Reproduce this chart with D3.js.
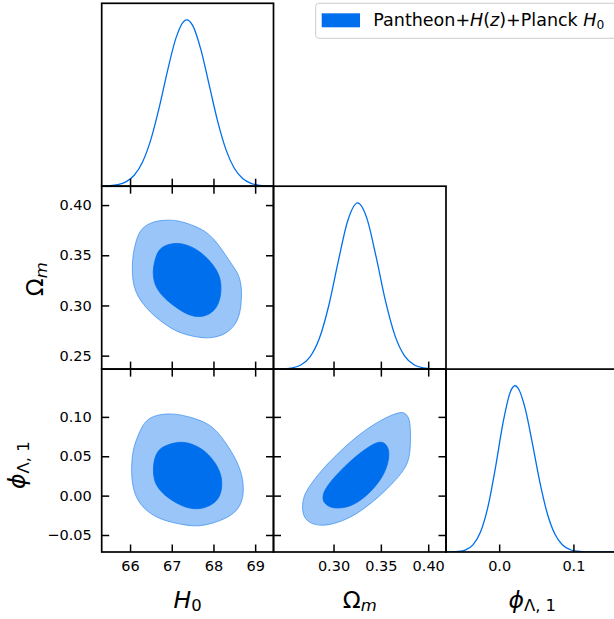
<!DOCTYPE html>
<html><head><meta charset="utf-8">
<script src="https://cdn.jsdelivr.net/npm/d3@7"></script>
<style>body{margin:0;background:#fff}svg{display:block}text{font-family:"DejaVu Sans",sans-serif}</style>
</head><body><svg id="c" width="614" height="619"></svg>
<script>
// ---------------- data ----------------
const paramNames = ["H0", "Om", "phi"];
const h0Domain = [65.32, 69.44];
const omDomain = [0.2366, 0.4188];
const phiDomain = [-0.0716, 0.1607];

const h0XTicks = [66, 67, 68, 69];
const omXTicks = [0.30, 0.35, 0.40];
const omYTicks = [0.25, 0.30, 0.35, 0.40];
const phiXTicks = [0.0, 0.1];
const phiYTicks = [-0.05, 0.00, 0.05, 0.10];

// 1D marginal densities (normalised to peak = 1)
const h0Grid = [65.3,65.5,65.7,65.9,66.1,66.3,66.5,66.7,66.9,67.1,67.3,67.36,67.5,67.7,67.9,68.1,68.3,68.5,68.7,68.9,69.1,69.3,69.5];
const h0Dens = [0.0007,0.0027,0.0089,0.0259,0.0657,0.1456,0.2814,0.4738,0.6956,0.8906,0.9938,1.0,0.967,0.8203,0.6065,0.391,0.2198,0.1077,0.046,0.0171,0.0056,0.0016,0.0004];
const omGrid = [0.225,0.235,0.245,0.255,0.265,0.275,0.285,0.295,0.305,0.315,0.3255,0.335,0.345,0.355,0.365,0.375,0.385,0.395,0.405,0.415,0.425];
const omDens = [0.0,0.0002,0.0012,0.0059,0.0228,0.0718,0.1838,0.3825,0.6479,0.8924,1.0,0.911,0.675,0.407,0.1997,0.0796,0.0258,0.0068,0.0015,0.0003,0.0];
const phiGrid = [-0.085,-0.075,-0.065,-0.055,-0.045,-0.035,-0.025,-0.015,-0.005,0.005,0.015,0.0212,0.025,0.035,0.045,0.055,0.065,0.075,0.085,0.095,0.105,0.115,0.125,0.135,0.145,0.165,0.175];
const phiDens = [0.0,0.0001,0.0007,0.0032,0.0132,0.0442,0.1215,0.2741,0.5077,0.7717,0.9627,1.0,0.989,0.8638,0.647,0.4155,0.2287,0.108,0.0437,0.0152,0.0045,0.0012,0.0003,0.0,0.0,0.0,0.0];

// 2D credible contours (68% inner, 95% outer)
const h0OmOuter = [[66.24,0.3755],[66.48,0.3828],[66.80,0.3852],[67.12,0.3850],[67.44,0.3810],[67.76,0.3755],[68.00,0.3670],[68.22,0.3550],[68.42,0.3420],[68.58,0.3330],[68.66,0.3230],[68.68,0.3115],[68.66,0.2985],[68.61,0.2880],[68.49,0.2790],[68.32,0.2725],[68.08,0.2683],[67.80,0.2673],[67.52,0.2690],[67.20,0.2725],[66.96,0.2778],[66.72,0.2848],[66.48,0.2933],[66.27,0.3035],[66.13,0.3135],[66.06,0.3250],[66.05,0.3383],[66.07,0.3517],[66.14,0.3640]];
const h0OmInner = [[66.61,0.3475],[66.71,0.3580],[67.04,0.3625],[67.32,0.3612],[67.61,0.3558],[67.86,0.3470],[68.06,0.3367],[68.17,0.3267],[68.19,0.3150],[68.14,0.3030],[68.01,0.2940],[67.80,0.2893],[67.60,0.2885],[67.36,0.2912],[67.12,0.2975],[66.87,0.3053],[66.66,0.3150],[66.56,0.3250],[66.55,0.3370]];
const h0PhiOuter = [[66.48,0.1000],[66.80,0.1040],[67.12,0.1040],[67.52,0.0988],[67.86,0.0920],[68.10,0.0812],[68.31,0.0662],[68.51,0.0493],[68.67,0.0303],[68.73,0.0113],[68.70,-0.0060],[68.57,-0.0192],[68.32,-0.0286],[68.00,-0.0350],[67.64,-0.0394],[67.28,-0.0372],[66.88,-0.0328],[66.55,-0.0255],[66.30,-0.0148],[66.13,-0.0014],[66.05,0.0155],[66.03,0.0324],[66.05,0.0493],[66.09,0.0620],[66.18,0.0750],[66.30,0.0900]];
const h0PhiInner = [[66.80,0.0630],[67.20,0.0695],[67.53,0.0652],[67.82,0.0562],[68.06,0.0410],[68.19,0.0261],[68.21,0.0113],[68.15,-0.0020],[67.98,-0.0117],[67.68,-0.0175],[67.40,-0.0162],[67.12,-0.0100],[66.82,0.0003],[66.61,0.0134],[66.55,0.0282],[66.57,0.0451],[66.66,0.0565]];
const omPhiOuter = [[0.3740,0.1062],[0.3796,0.1005],[0.3814,0.0873],[0.3814,0.0620],[0.3796,0.0448],[0.3742,0.0318],[0.3636,0.0170],[0.3512,0.0022],[0.3388,-0.0106],[0.3246,-0.0233],[0.3103,-0.0320],[0.2928,-0.0385],[0.2784,-0.0372],[0.2694,-0.0296],[0.2668,-0.0185],[0.2676,-0.0032],[0.2730,0.0096],[0.2820,0.0244],[0.2943,0.0413],[0.3086,0.0583],[0.3246,0.0754],[0.3421,0.0904],[0.3582,0.1010],[0.3688,0.1054]];
const omPhiInner = [[0.3493,0.0702],[0.3566,0.0648],[0.3593,0.0535],[0.3567,0.0362],[0.3495,0.0192],[0.3388,0.0042],[0.3263,-0.0085],[0.3121,-0.0160],[0.2978,-0.0160],[0.2894,-0.0097],[0.2880,0.0007],[0.2940,0.0138],[0.3050,0.0287],[0.3193,0.0458],[0.3352,0.0608]];

// ---------------- layout / style ----------------
const colX = [101.7, 273.5, 446.0, 618.5];
const rowY = [3.3, 186.2, 369.1, 552.0];
const C_DARK = "#006FED", C_LIGHT = "#99C5F8";
const TICK = 7.5, FS_TICK = 14.5, FS_LAB = 23.5;

const svg = d3.select("#c");
const domains = [h0Domain, omDomain, phiDomain];
const xTicks = [h0XTicks, omXTicks, phiXTicks];
const yTicks = [null, omYTicks, phiYTicks];
const xFmt = [d3.format("d"), d3.format(".2f"), d3.format(".1f")];
const yFmt = [null, d3.format(".2f"), d3.format(".2f")];
const xS = domains.map((d, p) => d3.scaleLinear().domain(d).range([colX[p], colX[p + 1]]));
const yS = domains.map((d, p) => d3.scaleLinear().domain(d).range([rowY[p + 1], rowY[p]]));
const grids = [[h0Grid, h0Dens], [omGrid, omDens], [phiGrid, phiDens]];
const contours = {"0-1": [h0OmOuter, h0OmInner], "0-2": [h0PhiOuter, h0PhiInner], "1-2": [omPhiOuter, omPhiInner]};

const defs = svg.append("defs");
const gPlot = svg.append("g"), gAxes = svg.append("g"), gFrame = svg.append("g");

function styleAxis(g, labels) {
  g.select(".domain").remove();
  g.selectAll(".tick line").attr("stroke", "#000").attr("stroke-width", 1.5);
  g.selectAll(".tick text").attr("font-size", FS_TICK).attr("font-family", "DejaVu Sans").attr("fill", "#000");
  if (!labels) g.selectAll(".tick text").remove();
}

for (let i = 0; i < 3; i++) for (let j = 0; j <= i; j++) {
  const x0 = colX[j], x1 = colX[j + 1], y0 = rowY[i], y1 = rowY[i + 1];
  const cid = `clip${i}${j}`;
  defs.append("clipPath").attr("id", cid).append("rect").attr("x", x0).attr("y", y0).attr("width", x1 - x0).attr("height", y1 - y0);
  const g = gPlot.append("g").attr("clip-path", `url(#${cid})`);
  const xs = xS[j];
  if (i === j) {
    const ys = d3.scaleLinear().domain([0, 1.1]).range([y1, y0]);
    const [gx, gy] = grids[j];
    const line = d3.line().x((d, k) => xs(gx[k])).y(d => ys(d)).curve(d3.curveMonotoneX);
    g.append("path").attr("d", line(gy)).attr("fill", "none").attr("stroke", C_DARK).attr("stroke-width", 1.3);
  } else {
    const ys = yS[i];
    const [outer, inner] = contours[`${j}-${i}`];
    const line = d3.line().x(d => xs(d[0])).y(d => ys(d[1])).curve(d3.curveBasisClosed);
    g.append("path").attr("d", line(outer)).attr("fill", C_LIGHT).attr("stroke", C_DARK).attr("stroke-opacity", 0.5).attr("stroke-width", 1);
    g.append("path").attr("d", line(inner)).attr("fill", C_DARK).attr("stroke", C_DARK).attr("stroke-width", 0.8);
  }
  // ticks (inward)
  const bottom = gAxes.append("g").attr("transform", `translate(0,${y1})`)
    .call(d3.axisBottom(xs).tickValues(xTicks[j]).tickFormat(xFmt[j]).tickSize(-TICK).tickPadding(8.5));
  styleAxis(bottom, i === 2);
  if (i !== j) {
    const ys = yS[i];
    const top = gAxes.append("g").attr("transform", `translate(0,${y0})`)
      .call(d3.axisTop(xs).tickValues(xTicks[j]).tickSize(-TICK));
    styleAxis(top, false);
    const left = gAxes.append("g").attr("transform", `translate(${x0},0)`)
      .call(d3.axisLeft(ys).tickValues(yTicks[i]).tickFormat(yFmt[i]).tickSize(-TICK).tickPadding(10));
    styleAxis(left, j === 0);
    const right = gAxes.append("g").attr("transform", `translate(${x1},0)`)
      .call(d3.axisRight(ys).tickValues(yTicks[i]).tickSize(-TICK));
    styleAxis(right, false);
  }
  gFrame.append("rect").attr("x", x0).attr("y", y0).attr("width", x1 - x0).attr("height", y1 - y0)
    .attr("fill", "none").attr("stroke", "#000").attr("stroke-width", 1.7);
}

// ---------------- axis labels (math text) ----------------
function mathText(sel, parts, fs) {
  parts.forEach(p => {
    const t = sel.append("tspan").text(p.t);
    if (p.it) t.attr("font-style", "italic");
    if (p.sub) t.attr("font-size", fs * 0.7).attr("dy", fs * 0.16);
  });
}
const labParts = [
  [{t: "H", it: true}, {t: "0", sub: true}],
  [{t: "Ω"}, {t: "m", it: true, sub: true}],
  [{t: "ϕ", it: true}, {t: "Λ, 1", sub: true}]
];
for (let p = 0; p < 3; p++) {
  const t = svg.append("text").attr("x", (colX[p] + colX[p + 1]) / 2).attr("y", 607.5)
    .attr("text-anchor", "middle").attr("font-size", FS_LAB).attr("fill", "#000");
  mathText(t, labParts[p], FS_LAB);
}
const yLabX = [null, 43, 25];
const yLabShift = [0, 1.5, 4.5];
for (let p = 1; p < 3; p++) {
  const cy = (rowY[p] + rowY[p + 1]) / 2 + yLabShift[p];
  const t = svg.append("text").attr("x", yLabX[p]).attr("y", cy)
    .attr("transform", `rotate(-90,${yLabX[p]},${cy})`)
    .attr("text-anchor", "middle").attr("font-size", FS_LAB).attr("fill", "#000");
  mathText(t, labParts[p], FS_LAB);
}

// ---------------- legend ----------------
const lg = svg.append("g");
lg.append("rect").attr("x", 315.7).attr("y", 3.3).attr("width", 330).attr("height", 35).attr("rx", 3)
  .attr("fill", "#fff").attr("fill-opacity", 0.8).attr("stroke", "#cccccc").attr("stroke-width", 1);
lg.append("rect").attr("x", 321.7).attr("y", 13.3).attr("width", 38.3).attr("height", 14).attr("fill", C_DARK);
const FS_LEG = 17.5;
const lt = lg.append("text").attr("x", 373.3).attr("y", 26).attr("font-size", FS_LEG).attr("fill", "#000");
mathText(lt, [{t: "Pantheon+"}, {t: "H", it: true}, {t: "("}, {t: "z", it: true}, {t: ")+Planck "}, {t: "H", it: true}, {t: "0", sub: true}], FS_LEG);
</script></body></html>
